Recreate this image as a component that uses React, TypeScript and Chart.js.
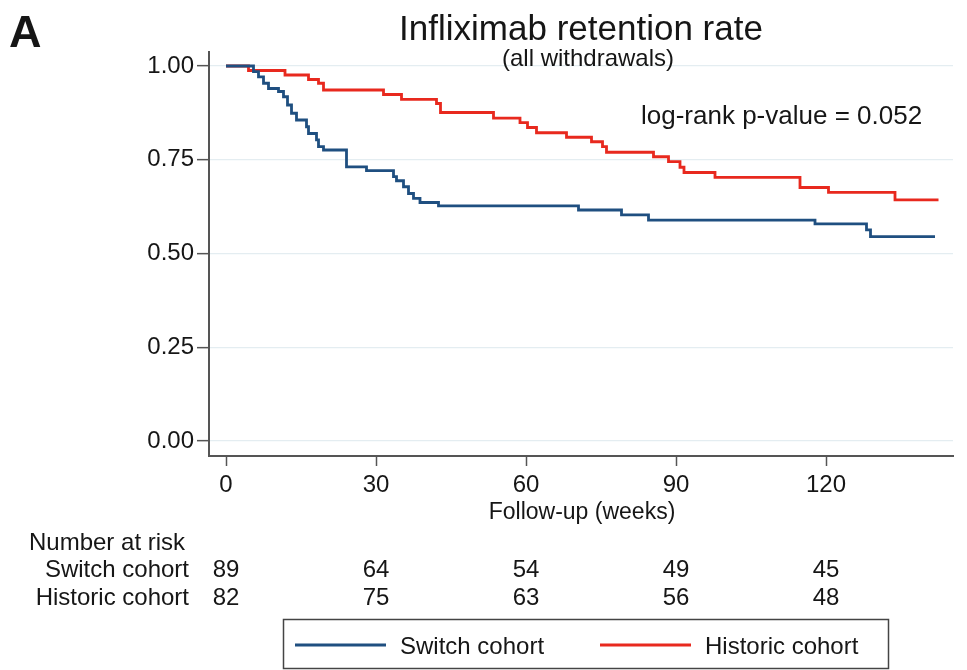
import React, { useEffect, useRef } from 'react';
import { Chart, registerables } from 'chart.js';

Chart.register(...registerables);

// Kaplan-Meier step data (weeks, retention)
const switchWeeks = [0, 5.5, 6.5, 7.5, 8.5, 10.5, 11.5, 12.3, 13.1, 14.1, 16.1, 16.5, 18.1, 18.5, 19.5, 24.1, 28.1, 33.5, 34.1, 35.5, 36.5, 37.5, 38.8, 42.5, 70.5, 79.1, 84.5, 117.8, 128.1, 128.9, 141.8];
const switchSurv = [1, 0.985, 0.971, 0.954, 0.94, 0.932, 0.918, 0.896, 0.874, 0.856, 0.838, 0.82, 0.803, 0.785, 0.776, 0.731, 0.721, 0.705, 0.694, 0.678, 0.66, 0.647, 0.636, 0.627, 0.616, 0.603, 0.589, 0.579, 0.563, 0.545, 0.545];

const historicWeeks = [0, 4.5, 11.8, 16.5, 18.5, 19.5, 31.5, 35.1, 42.1, 42.9, 53.5, 58.8, 60.3, 62.1, 68.1, 73.1, 75.3, 76.1, 85.5, 88.5, 90.8, 91.6, 97.8, 114.8, 120.5, 133.8, 142.5];
const historicSurv = [1, 0.988, 0.976, 0.964, 0.954, 0.936, 0.924, 0.911, 0.9, 0.876, 0.861, 0.849, 0.836, 0.822, 0.81, 0.798, 0.785, 0.77, 0.758, 0.745, 0.73, 0.716, 0.703, 0.676, 0.663, 0.643, 0.643];

const xTicks = [0, 30, 60, 90, 120];
const yTicks = [0, 0.25, 0.5, 0.75, 1];
const riskSwitch = [89, 64, 54, 49, 45];
const riskHistoric = [82, 75, 63, 56, 48];
const seriesNames = ['Switch cohort', 'Historic cohort'];

const BLUE = '#1f4f80';
const RED = '#e8291e';
const FONT = "'Liberation Sans', Arial, Helvetica, sans-serif";
const TEXT = '#161616';

function drawText(ctx: CanvasRenderingContext2D, s: string, x: number, y: number, font: string, align: CanvasTextAlign) {
  ctx.font = font;
  ctx.textAlign = align;
  ctx.textBaseline = 'alphabetic';
  ctx.fillText(s, x, y);
}

const extrasPlugin = {
  id: 'extras',
  afterDraw(chart: any) {
    const ctx: CanvasRenderingContext2D = chart.ctx;
    const xs = chart.scales.x;
    ctx.save();
    ctx.fillStyle = TEXT;
    drawText(ctx, 'A', 9, 47, `bold 45px ${FONT}`, 'left');
    drawText(ctx, 'Infliximab retention rate', 581, 40, `35px ${FONT}`, 'center');
    drawText(ctx, '(all withdrawals)', 588, 66, `24px ${FONT}`, 'center');
    drawText(ctx, 'log-rank p-value = 0.052', 641, 124, `26px ${FONT}`, 'left');
    drawText(ctx, 'Follow-up (weeks)', 582, 519, `23px ${FONT}`, 'center');

    // Number at risk table
    drawText(ctx, 'Number at risk', 29, 550, `24px ${FONT}`, 'left');
    drawText(ctx, seriesNames[0], 189, 577, `24px ${FONT}`, 'right');
    drawText(ctx, seriesNames[1], 189, 605, `24px ${FONT}`, 'right');
    xTicks.forEach((t, i) => {
      const px = xs.getPixelForValue(t);
      drawText(ctx, String(riskSwitch[i]), px, 577, `24px ${FONT}`, 'center');
      drawText(ctx, String(riskHistoric[i]), px, 605, `24px ${FONT}`, 'center');
    });

    // Legend box
    ctx.strokeStyle = '#444';
    ctx.lineWidth = 1.5;
    ctx.strokeRect(283.5, 619.5, 605, 49);
    ctx.lineWidth = 3;
    ctx.strokeStyle = BLUE;
    ctx.beginPath();
    ctx.moveTo(295, 645);
    ctx.lineTo(386, 645);
    ctx.stroke();
    ctx.strokeStyle = RED;
    ctx.beginPath();
    ctx.moveTo(600, 645);
    ctx.lineTo(691, 645);
    ctx.stroke();
    drawText(ctx, seriesNames[0], 400, 654, `24px ${FONT}`, 'left');
    drawText(ctx, seriesNames[1], 705, 654, `24px ${FONT}`, 'left');
    ctx.restore();
  },
};

export default function App() {
  const ref = useRef<HTMLCanvasElement | null>(null);
  useEffect(() => {
    if (!ref.current) return;
    const chart = new Chart(ref.current, {
      type: 'scatter',
      data: {
        datasets: [
          {
            label: seriesNames[0],
            data: switchWeeks.map((w, i) => ({ x: w, y: switchSurv[i] })),
            showLine: true,
            stepped: true,
            borderColor: BLUE,
            borderWidth: 2.8,
            pointRadius: 0,
            fill: false,
          },
          {
            label: seriesNames[1],
            data: historicWeeks.map((w, i) => ({ x: w, y: historicSurv[i] })),
            showLine: true,
            stepped: true,
            borderColor: RED,
            borderWidth: 2.8,
            pointRadius: 0,
            fill: false,
          },
        ],
      },
      options: {
        responsive: false,
        animation: false,
        devicePixelRatio: 1,
        layout: { padding: { left: 0, top: 52, right: 14, bottom: 0 } },
        plugins: {
          legend: { display: false },
          tooltip: { enabled: false },
          title: { display: false },
        },
        scales: {
          x: {
            type: 'linear',
            min: -3.4,
            max: 145.4,
            afterBuildTicks: (scale: any) => {
              scale.ticks = xTicks.map((v) => ({ value: v }));
            },
            afterFit: (scale: any) => {
              scale.height = 214;
            },
            ticks: {
              font: { family: FONT, size: 24 },
              color: TEXT,
              padding: 5,
              maxRotation: 0,
              autoSkip: false,
            },
            grid: {
              drawOnChartArea: false,
              drawTicks: true,
              tickLength: 10,
              tickColor: '#555',
              tickWidth: 1.5,
            },
            border: { display: true, color: '#555', width: 2 },
          },
          y: {
            type: 'linear',
            min: -0.04,
            max: 1.0373,
            afterBuildTicks: (scale: any) => {
              scale.ticks = yTicks.map((v) => ({ value: v }));
            },
            afterFit: (scale: any) => {
              scale.width = 209;
            },
            ticks: {
              font: { family: FONT, size: 24 },
              color: TEXT,
              padding: 3,
              callback: (v: any) => Number(v).toFixed(2),
            },
            grid: {
              color: '#e4edf1',
              lineWidth: 1.3,
              drawTicks: true,
              tickLength: 12,
              tickColor: '#555',
              tickWidth: 1.5,
            },
            border: { display: true, color: '#555', width: 2 },
          },
        },
      },
      plugins: [extrasPlugin],
    });
    return () => chart.destroy();
  }, []);
  return (
    <div style={{ position: 'absolute', left: 0, top: 0, width: 967, height: 670, background: '#fff' }}>
      <canvas ref={ref} width={967} height={670} style={{ display: 'block' }} />
    </div>
  );
}
